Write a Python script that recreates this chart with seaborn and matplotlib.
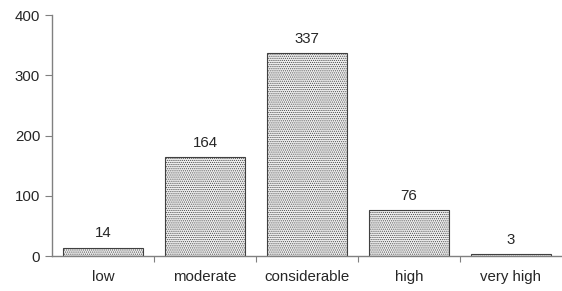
import pandas as pd
import seaborn as sns
import matplotlib.pyplot as plt

categories = ["low", "moderate", "considerable", "high", "very high"]
counts = [14, 164, 337, 76, 3]

df = pd.DataFrame({"category": categories, "count": counts})

sns.set_style("white")
plt.rcParams['font.family'] = ['Liberation Sans', 'DejaVu Sans']
plt.rcParams['hatch.color'] = '#a8a8a8'
plt.rcParams['hatch.linewidth'] = 0.5

fig = plt.figure(figsize=(5.62, 2.91), dpi=100)
ax = fig.add_axes([0.0925, 0.12, 0.9075, 0.828])

ax = sns.barplot(data=df, x="category", y="count", color="#e6e6e6",
                 width=0.78, edgecolor="#404040", linewidth=0.8, ax=ax)
for p in ax.patches:
    p.set_hatch('........')
    p.set_facecolor('#eeeeee')

for i, v in enumerate(counts):
    ax.text(i, v + 12, str(v), ha="center", va="bottom", fontsize=10.8)

ax.set_xlim(-0.5, 4.5)
ax.set_ylim(0, 400)
ax.set_yticks([0, 100, 200, 300, 400])
ax.set_xlabel("")
ax.set_ylabel("")

ax.set_xticks([0.5, 1.5, 2.5, 3.5], minor=False)
ax.set_xticklabels([])
ax.set_xticks(range(5), minor=True)
ax.set_xticklabels(categories, minor=True)
ax.tick_params(axis="x", which="minor", length=0, pad=10, labelsize=10.8)
ax.tick_params(axis="x", which="major", length=4, color="#808080", direction="out", bottom=True)
ax.tick_params(axis="y", length=5, color="#808080", direction="out", left=True, labelsize=10.8)

sns.despine(ax=ax)
for s in ["left", "bottom"]:
    ax.spines[s].set_color("#808080")
    ax.spines[s].set_linewidth(1.0)

fig.savefig("out.png", dpi=100)
